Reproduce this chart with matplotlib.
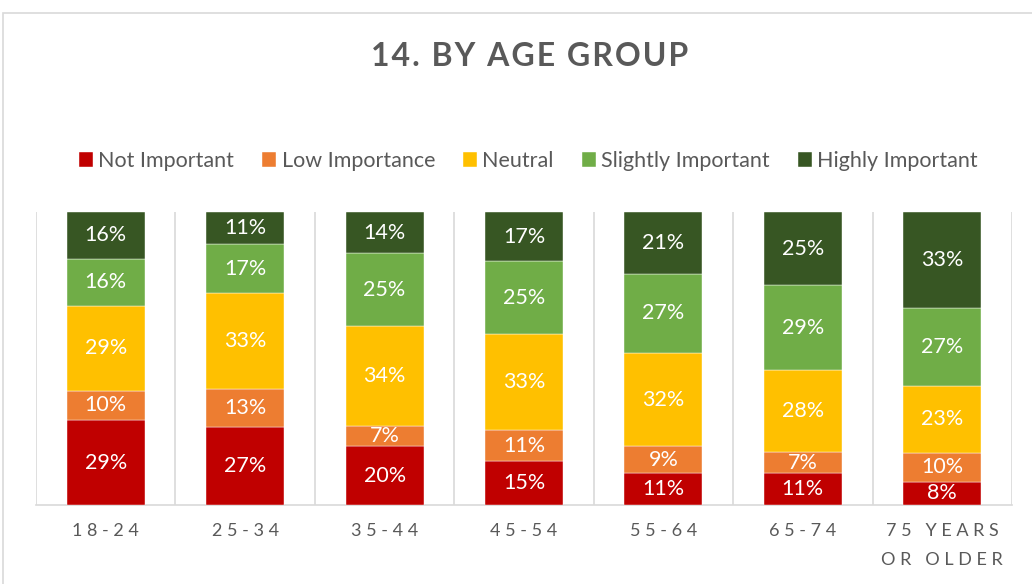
import numpy as np
from matplotlib import pyplot as plt
from matplotlib.patches import Rectangle

plt.rcParams['font.family'] = ['Lato', 'DejaVu Sans']

groups = ['18-24', '25-34', '35-44', '45-54', '55-64', '65-74', '75 YEARS\nOR OLDER']
series = ['Not Important', 'Low Importance', 'Neutral', 'Slightly Important', 'Highly Important']
not_important = [29, 27, 20, 15, 11, 11, 8]
low_importance = [10, 13, 7, 11, 9, 7, 10]
neutral = [29, 33, 34, 33, 32, 28, 23]
slightly_important = [16, 17, 25, 25, 27, 29, 27]
highly_important = [16, 11, 14, 17, 21, 25, 33]
colors = ['#C00000', '#ED7D31', '#FFC000', '#70AD47', '#375623']

values = np.array([not_important, low_importance, neutral, slightly_important, highly_important], dtype=float)
shares = values / values.sum(axis=0)


def spaced(text, gap=' ', word_gap='   '):
    # widen letter spacing like the original chart
    lines = []
    for line in text.split('\n'):
        lines.append(word_gap.join(gap.join(w) for w in line.split()))
    return '\n'.join(lines)


fig = plt.figure(figsize=(10.32, 5.84), dpi=100)
ax = fig.add_axes([36 / 1032, 79 / 584, 976 / 1032, 293 / 584])

x = np.arange(len(groups))
bottom = np.zeros(len(groups))
handles = []
for vals, share, name, color in zip(values, shares, series, colors):
    bars = ax.bar(x, share, 0.56, bottom=bottom, color=color, label=name,
                  edgecolor='white', linewidth=0.3, zorder=3)
    handles.append(bars)
    for xi, b, s, v in zip(x, bottom, share, vals):
        ax.text(xi, b + s / 2, '{0}%'.format(int(v)), ha='center', va='center',
                color='white', fontsize=15.5, zorder=4)
    bottom += share

ax.set_xlim(-0.5, len(groups) - 0.5)
ax.set_ylim(0, 1)
for b in np.arange(-0.5, len(groups), 1.0):
    ax.axvline(b, color='#d9d9d9', linewidth=1.2, zorder=1)
for side in ['top', 'right', 'left']:
    ax.spines[side].set_visible(False)
ax.spines['bottom'].set_color('#d9d9d9')
ax.spines['bottom'].set_linewidth(1.2)
ax.set_yticks([])
ax.set_xticks(x)
ax.set_xticklabels([spaced(g) for g in groups], fontsize=13, color='#595959', linespacing=2.0)
ax.tick_params(axis='x', length=0, pad=13)

fig.text(0.513, 1 - 56 / 584, spaced('14. BY AGE GROUP', '\u200a', '\u200a \u200a'),
         ha='center', va='center', fontsize=23, fontweight='bold', color='#595959')
fig.legend(handles, series, loc='center', bbox_to_anchor=(0.512, 1 - 161 / 584), ncol=5,
           frameon=False, fontsize=15.5, labelcolor='#595959', handlelength=0.65,
           handleheight=0.65, handletextpad=0.25, columnspacing=1.3)

fig.patches.append(Rectangle((3 / 1032, -0.05), 1.1, 1 - 13 / 584 + 0.05, transform=fig.transFigure,
                             fill=False, edgecolor='#d9d9d9', linewidth=1.2, zorder=0))

plt.savefig('out.png', dpi=100)
